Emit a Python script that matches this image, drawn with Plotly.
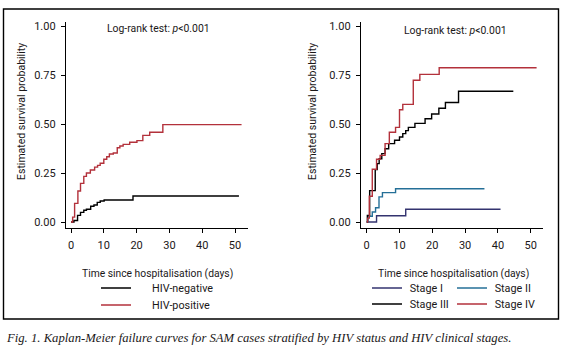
import plotly.graph_objects as go

# ---------------- data ----------------
hiv_neg_t = [0, 0.9, 2.0, 2.9, 3.9, 4.7, 6.0, 7.0, 8.0, 8.9, 10.1, 18.9, 51.2]
hiv_neg_s = [0, 0.008, 0.034, 0.049, 0.060, 0.065, 0.080, 0.087, 0.100, 0.107, 0.112, 0.133, 0.133]

hiv_pos_t = [0, 0.5, 1.1, 2.1, 2.9, 3.9, 4.7, 5.9, 7.2, 8.1, 8.9, 10.0, 10.9, 11.7, 12.9,
             14.1, 14.9, 15.9, 17.9, 20.1, 21.9, 24.0, 28.0, 52.0]
hiv_pos_s = [0, 0.025, 0.095, 0.158, 0.197, 0.233, 0.250, 0.265, 0.280, 0.289, 0.300, 0.320,
             0.333, 0.347, 0.352, 0.379, 0.388, 0.396, 0.407, 0.415, 0.442, 0.458, 0.497, 0.497]

stage1_t = [0, 3.0, 11.9, 40.8]
stage1_s = [0, 0.032, 0.065, 0.065]

stage2_t = [0, 0.4, 1.7, 2.7, 3.75, 4.8, 8.8, 35.9]
stage2_s = [0, 0.029, 0.051, 0.073, 0.128, 0.150, 0.170, 0.170]

stage3_t = [0, 0.2, 0.9, 2.6, 3.2, 3.8, 4.6, 5.6, 6.7, 8.5, 10.0, 11.0, 11.9, 12.7, 14.7,
            17.8, 19.8, 22.0, 24.0, 28.0, 44.7]
stage3_s = [0, 0.034, 0.160, 0.267, 0.298, 0.323, 0.349, 0.374, 0.400, 0.417, 0.434, 0.451,
            0.466, 0.483, 0.503, 0.527, 0.551, 0.580, 0.610, 0.667, 0.667]

stage4_t = [0, 0.3, 0.8, 1.7, 3.0, 4.1, 5.6, 6.9, 8.8, 10.0, 11.0, 14.2, 16.2, 22.1, 51.8]
stage4_s = [0, 0.020, 0.131, 0.269, 0.320, 0.340, 0.400, 0.458, 0.483, 0.573, 0.600, 0.723,
            0.753, 0.787, 0.787]

x_ticks = [0, 10, 20, 30, 40, 50]
y_ticks = [0, 0.25, 0.5, 0.75, 1.0]
y_tick_labels = ["0.00", "0.25", "0.50", "0.75", "1.00"]

# ---------------- styling ----------------
W, H = 565, 354
FONT = "Roboto, sans-serif"
TXT = "#1a1718"
RED = "#b3313b"
TEAL = "#246f97"
NAVY = "#33336f"
BLACK = "#000000"
LW = 1.4


def px(x):
    return x / W


def py(y):
    return 1 - y / H


fig = go.Figure()

series = [
    ("HIV-negative", hiv_neg_t, hiv_neg_s, BLACK, "x", "y", "legend", 101, 288),
    ("HIV-positive", hiv_pos_t, hiv_pos_s, RED, "x", "y", "legend2", 101, 305),
    ("Stage I", stage1_t, stage1_s, NAVY, "x2", "y2", "legend3", 372, 288),
    ("Stage II", stage2_t, stage2_s, TEAL, "x2", "y2", "legend4", 457, 288),
    ("Stage III", stage3_t, stage3_s, BLACK, "x2", "y2", "legend5", 372, 304),
    ("Stage IV", stage4_t, stage4_s, RED, "x2", "y2", "legend6", 457, 304),
]

legends = {}
for name, t, s, col, xa, ya, lg, lx, ly in series:
    gap = "\u00a0" * (6 if xa == "x" else 1)
    fig.add_trace(go.Scatter(
        x=t, y=s, mode="lines", line=dict(color=col, width=LW, shape="hv"),
        name=gap + name, xaxis=xa, yaxis=ya, legend=lg,
        showlegend=True, hoverinfo="skip"))
    legends[lg] = dict(x=px(lx - 5), y=py(ly), xanchor="left", yanchor="middle",
                       bgcolor="rgba(0,0,0,0)", borderwidth=0,
                       font=dict(family=FONT, size=10.8, color=TXT),
                       itemwidth=30, tracegroupgap=0)

yr = [-6 / 196, 1 + 4 / 196]
axis_common = dict(showline=True, linecolor="black", linewidth=1.3, ticks="outside",
                   ticklen=4, tickwidth=1.2, tickcolor="black", showgrid=False,
                   zeroline=False, tickfont=dict(family=FONT, size=11, color=TXT))

fig.update_layout(
    width=W, height=H, margin=dict(l=0, r=0, t=0, b=0, autoexpand=False),
    paper_bgcolor="white", plot_bgcolor="white",
    xaxis=dict(domain=[px(66), px(248)], range=[-5 / 3.28, 177 / 3.28], anchor="y",
               tickvals=x_ticks, ticklabelstandoff=3, **axis_common),
    yaxis=dict(domain=[py(228), py(22)], range=yr, anchor="x",
               tickvals=y_ticks, ticktext=y_tick_labels, ticklabelstandoff=3, **axis_common),
    xaxis2=dict(domain=[px(361), px(543)], range=[-5.7 / 3.28, 176.3 / 3.28], anchor="y2",
                tickvals=x_ticks, ticklabelstandoff=3, **axis_common),
    yaxis2=dict(domain=[py(228), py(22)], range=yr, anchor="x2",
                tickvals=y_ticks, ticktext=y_tick_labels, ticklabelstandoff=3, **axis_common),
    showlegend=True,
    **legends,
)

annotations = [
    dict(text="Log-rank test: <i>p</i>&lt;0.001", x=px(158), y=py(29), size=10.4),
    dict(text="Log-rank test: <i>p</i>&lt;0.001", x=px(455), y=py(30), size=10.4),
    dict(text="Time since hospitalisation (days)", x=px(157), y=py(273), size=10.3),
    dict(text="Time since hospitalisation (days)", x=px(453), y=py(273), size=10.3),
    dict(text="Estimated survival probability", x=px(22), y=py(112), textangle=-90, size=10.5),
    dict(text="Estimated survival probability", x=px(313), y=py(112), textangle=-90, size=10.5),
]
for a in annotations:
    size = a.pop("size")
    fig.add_annotation(xref="paper", yref="paper", showarrow=False,
                       xanchor="center", yanchor="middle",
                       font=dict(family=FONT, size=size, color=TXT), **a)

fig.add_annotation(
    xref="paper", yref="paper", showarrow=False, x=px(4), y=py(338),
    xanchor="left", yanchor="middle",
    text="Fig. 1. Kaplan-Meier failure curves for SAM cases stratified by HIV status and HIV clinical stages.",
    font=dict(family="Liberation Serif, Times New Roman, serif", size=12.7, color=TXT, style="italic"))

# outer frame
fig.add_shape(type="rect", xref="paper", yref="paper",
              x0=px(3.5), x1=px(558.5), y0=py(319), y1=py(9),
              line=dict(color="black", width=1.4), fillcolor="rgba(0,0,0,0)", layer="below")

fig.write_html("out.html", config={"displayModeBar": False},
               post_script="document.body.style.margin='0';")
